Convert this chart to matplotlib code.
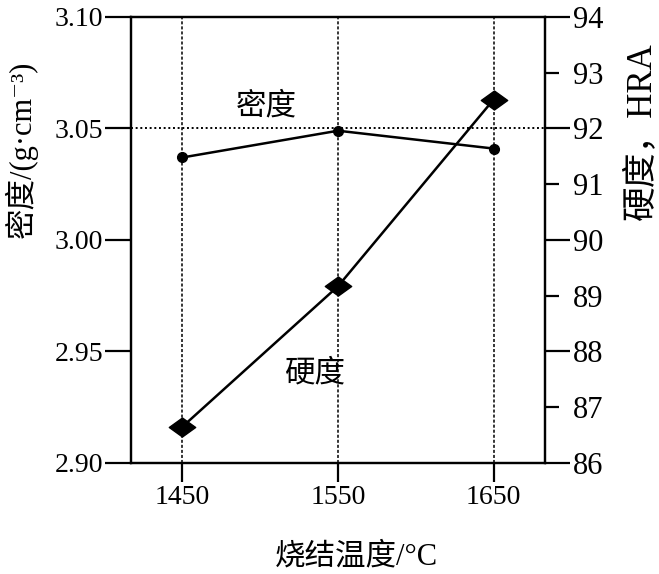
import matplotlib
matplotlib.use("Agg")
import matplotlib.pyplot as plt
from matplotlib.path import Path
from matplotlib.ticker import FixedLocator, FixedFormatter

temps = [1450, 1550, 1650]
density = [3.037, 3.049, 3.041]
hardness = [86.65, 89.17, 92.52]
x_ticks = [1450, 1550, 1650]
left_ticks = [2.90, 2.95, 3.00, 3.05, 3.10]
right_major = [86, 88, 90, 92, 94]
right_minor = [87, 89, 91, 93]

fam = ['Liberation Serif', 'Noto Sans CJK SC', 'DejaVu Serif']
plt.rcParams['font.family'] = fam

fig = plt.figure(figsize=(6.59, 5.74), dpi=100)
ax = fig.add_axes([0.1988, 0.1934, 0.6282, 0.777])
ax2 = ax.twinx()

ax.set_xlim(1417, 1683)
ax.set_ylim(2.90, 3.10)
ax2.set_ylim(86, 94)

for t in x_ticks:
    ax.axvline(t, color='black', lw=1.1, ls=(0, (2, 1.3)), zorder=1)
ax.axhline(3.05, color='black', lw=1.4, ls=(0, (1.0, 1.4)), zorder=1)

diamond = Path([(-1, 0), (0, 0.72), (1, 0), (0, -0.72), (-1, 0)],
               [Path.MOVETO, Path.LINETO, Path.LINETO, Path.LINETO, Path.CLOSEPOLY])

ax.plot(temps, density, color='black', lw=1.8, marker='o', ms=7, zorder=3)
ax2.plot(temps, hardness, color='black', lw=1.8, marker=diamond, ms=19, zorder=3)

ax.set_xticks(x_ticks)
ax.set_xticklabels([str(t) for t in x_ticks])
ax.set_yticks(left_ticks)
ax.set_yticklabels([f"{v:.2f}" for v in left_ticks])
ax2.yaxis.set_major_locator(FixedLocator(right_major))
ax2.yaxis.set_major_formatter(FixedFormatter([str(v) for v in right_major]))
ax2.yaxis.set_minor_locator(FixedLocator(right_minor))
ax2.yaxis.set_minor_formatter(FixedFormatter([str(v) for v in right_minor]))

for a in (ax, ax2):
    for s in a.spines.values():
        s.set_linewidth(1.6)

ax.tick_params(axis='x', direction='out', length=14, width=1.6, labelsize=20, pad=2)
ax.tick_params(axis='y', direction='out', length=19, width=1.6, labelsize=20, pad=1)
ax2.tick_params(axis='y', which='major', direction='out', length=18, width=1.6, labelsize=22, pad=2)
ax2.tick_params(axis='y', which='minor', direction='out', length=10, width=1.6, labelsize=22, pad=10)

ax.text(1504, 3.0596, '密度', fontsize=22, ha='center', va='center')
ax2.text(1535, 87.6, '硬度', fontsize=22, ha='center', va='center')

ax.set_xlabel('烧结温度/°C', fontsize=22)
ax.xaxis.set_label_coords(0.545, -0.211)
ax.xaxis.label.set_va('center')
ax.set_ylabel('密度/(g·cm⁻³)', fontsize=22)
ax.yaxis.set_label_coords(-0.264, 0.704)
ax.yaxis.label.set_va('center')
ax2.set_ylabel('硬度，HRA', fontsize=25, rotation=90)
ax2.yaxis.set_label_coords(1.232, 0.744)
ax2.yaxis.label.set_va('center')

fig.savefig('out.png', dpi=100)
